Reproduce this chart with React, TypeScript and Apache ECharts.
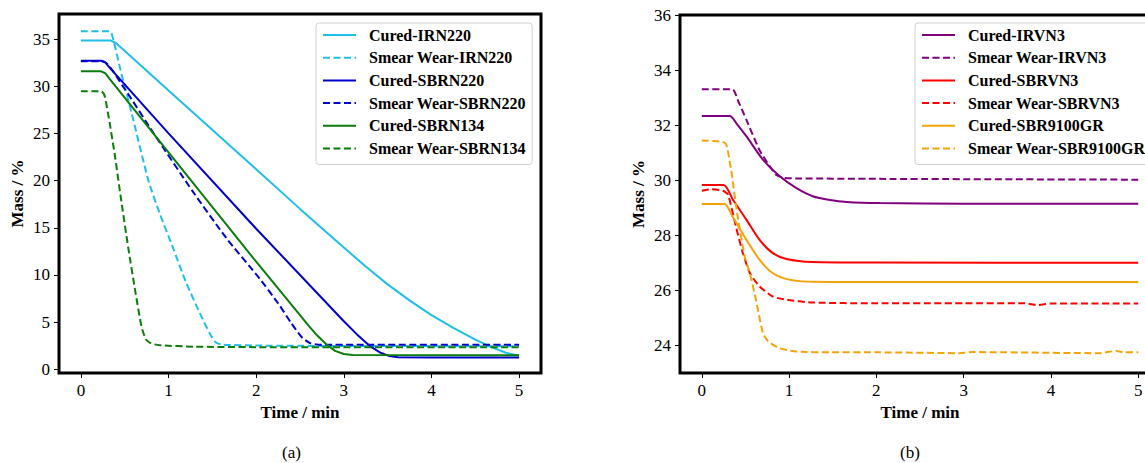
import React, { useEffect, useRef } from "react";
import * as echarts from "echarts";

// ---------- data (time in min, mass in %) ----------
const xTicks = [0, 1, 2, 3, 4, 5];
const yTicksA = [0, 5, 10, 15, 20, 25, 30, 35];
const yTicksB = [24, 26, 28, 30, 32, 34, 36];

const curedIRN220: [number, number][] = [
  [0, 34.83], [0.34, 34.83], [0.4, 34.58], [0.46, 34.08], [1, 29.55], [2, 21.2],
  [2.5, 17.0], [3, 12.9], [3.25, 10.9], [3.5, 9.0], [3.75, 7.3], [4, 5.75],
  [4.25, 4.4], [4.5, 3.15], [4.7, 2.3], [4.85, 1.75], [5, 1.45],
];
const smearIRN220: [number, number][] = [
  [0, 35.82], [0.33, 35.82], [0.36, 35.3], [0.45, 31.8], [0.58, 27.1],
  [0.77, 20.0], [0.9, 16.5], [1.05, 12.9], [1.2, 9.2], [1.36, 5.9],
  [1.47, 3.8], [1.54, 2.85], [1.62, 2.62], [2, 2.52], [3, 2.47], [5, 2.45],
];
const curedSBRN220: [number, number][] = [
  [0, 32.7], [0.23, 32.7], [0.28, 32.5], [0.33, 31.95], [1, 25.0], [2, 14.9],
  [3, 5.1], [3.15, 3.7], [3.3, 2.45], [3.42, 1.75], [3.52, 1.4], [3.62, 1.27],
  [4, 1.25], [5, 1.25],
];
const smearSBRN220: [number, number][] = [
  [0, 32.65], [0.25, 32.65], [0.5, 29.7], [0.83, 25.0], [1.28, 18.8],
  [1.66, 13.9], [2.04, 9.6], [2.25, 7.0], [2.4, 4.9], [2.52, 3.4],
  [2.62, 2.75], [2.75, 2.6], [5, 2.6],
];
const curedSBRN134: [number, number][] = [
  [0, 31.58], [0.23, 31.58], [0.28, 31.35], [0.33, 30.75], [1, 23.0], [2, 11.4],
  [2.6, 4.6], [2.7, 3.55], [2.8, 2.65], [2.9, 1.95], [3.0, 1.62], [3.1, 1.53],
  [5, 1.5],
];
const smearSBRN134: [number, number][] = [
  [0, 29.46], [0.23, 29.46], [0.27, 29.0], [0.33, 26.0], [0.39, 22.5],
  [0.46, 17.9], [0.54, 12.9], [0.62, 8.3], [0.69, 4.6], [0.74, 3.2],
  [0.8, 2.75], [0.9, 2.55], [1.3, 2.4], [2, 2.35], [5, 2.33],
];

const curedIRVN3: [number, number][] = [
  [0, 32.33], [0.32, 32.33], [0.4, 32.05], [0.51, 31.6], [0.7, 30.75],
  [0.89, 30.15], [1.08, 29.72], [1.27, 29.42], [1.47, 29.28], [1.66, 29.21],
  [2.04, 29.17], [3, 29.15], [5, 29.15],
];
const smearIRVN3: [number, number][] = [
  [0, 33.3], [0.35, 33.3], [0.42, 32.85], [0.51, 32.2], [0.66, 31.1],
  [0.78, 30.5], [0.85, 30.2], [0.92, 30.1], [1.0, 30.07], [2, 30.05], [5, 30.02],
];
const curedSBRVN3: [number, number][] = [
  [0, 29.83], [0.25, 29.83], [0.355, 29.3], [0.51, 28.57], [0.66, 27.84],
  [0.81, 27.36], [0.97, 27.14], [1.27, 27.03], [2, 27.01], [5, 27.0],
];
const smearSBRVN3: [number, number][] = [
  [0, 29.62], [0.1, 29.67], [0.24, 29.62], [0.3, 29.48], [0.39, 28.33],
  [0.47, 27.36], [0.55, 26.63], [0.66, 26.15], [0.81, 25.78], [0.97, 25.66],
  [1.27, 25.56], [2, 25.53], [3, 25.53], [3.7, 25.53], [3.85, 25.47],
  [4, 25.52], [5, 25.52],
];
const curedSBR9100GR: [number, number][] = [
  [0, 29.14], [0.26, 29.14], [0.35, 28.69], [0.51, 27.84], [0.66, 27.12],
  [0.81, 26.63], [1.0, 26.39], [1.27, 26.31], [2, 26.3], [5, 26.3],
];
const smearSBR9100GR: [number, number][] = [
  [0, 31.44], [0.23, 31.4], [0.28, 31.3], [0.335, 30.39], [0.41, 28.7],
  [0.49, 27.24], [0.55, 26.63], [0.62, 25.66], [0.7, 24.45], [0.76, 24.15],
  [0.89, 23.9], [1.08, 23.78], [1.47, 23.75], [2, 23.75], [2.95, 23.72],
  [3.1, 23.76], [4.55, 23.72], [4.75, 23.8], [4.85, 23.75], [5, 23.75],
];

const namesA = [
  "Cured-IRN220", "Smear Wear-IRN220", "Cured-SBRN220",
  "Smear Wear-SBRN220", "Cured-SBRN134", "Smear Wear-SBRN134",
];
const namesB = [
  "Cured-IRVN3", "Smear Wear-IRVN3", "Cured-SBRVN3",
  "Smear Wear-SBRVN3", "Cured-SBR9100GR", "Smear Wear-SBR9100GR",
];
const dataA = [curedIRN220, smearIRN220, curedSBRN220, smearSBRN220, curedSBRN134, smearSBRN134];
const dataB = [curedIRVN3, smearIRVN3, curedSBRVN3, smearSBRVN3, curedSBR9100GR, smearSBR9100GR];

// ---------- styles ----------
const colorsA = ["#1EBFE8", "#1EBFE8", "#0000CD", "#0000CD", "#0A7D0A", "#0A7D0A"];
const colorsB = ["#800080", "#800080", "#FF0000", "#FF0000", "#F5A30A", "#F5A30A"];
const smoothA = [false, 0.2, false, 0.2, false, 0.2];
const smoothB = [0.25, 0.2, 0.25, 0.2, 0.25, 0.2];
const FONT = "Liberation Serif";

function makeSeries(
  names: string[],
  data: [number, number][][],
  colors: string[],
  smooth: (number | boolean)[],
  idx: number
) {
  return names.map((name, i) => ({
    name,
    type: "line",
    xAxisIndex: idx,
    yAxisIndex: idx,
    data: data[i],
    symbol: "none",
    showSymbol: false,
    smooth: smooth[i],
    clip: true,
    lineStyle: {
      color: colors[i],
      width: 2,
      type: i % 2 === 1 ? [7, 3.5] : "solid",
    },
    itemStyle: { color: colors[i] },
    emphasis: { disabled: true },
  }));
}

function xAxis(gridIndex: number) {
  return {
    type: "value",
    gridIndex,
    min: -0.25,
    max: 5.25,
    name: "Time / min",
    nameLocation: "middle",
    nameGap: 30,
    nameTextStyle: { fontFamily: FONT, fontWeight: "bold", fontSize: 17, color: "#000" },
    axisLine: { show: false, onZero: false },
    axisTick: { show: true, inside: false, length: 5, customValues: xTicks, lineStyle: { color: "#000", width: 1 } },
    axisLabel: { customValues: xTicks, margin: 9, fontFamily: FONT, fontSize: 17, color: "#000" },
    splitLine: { show: false },
  };
}

function yAxis(gridIndex: number, min: number, max: number, ticks: number[]) {
  return {
    type: "value",
    gridIndex,
    min,
    max,
    name: "Mass / %",
    nameLocation: "middle",
    nameRotate: 90,
    nameGap: 33,
    nameTextStyle: { fontFamily: FONT, fontWeight: "bold", fontSize: 17, color: "#000" },
    axisLine: { show: false, onZero: false },
    axisTick: { show: true, inside: false, length: 5, customValues: ticks, lineStyle: { color: "#000", width: 1 } },
    axisLabel: { customValues: ticks, margin: 9, fontFamily: FONT, fontSize: 17, color: "#000" },
    splitLine: { show: false },
  };
}

function legend(names: string[], left: number) {
  return {
    data: names,
    orient: "vertical",
    left,
    top: 23,
    itemWidth: 33,
    itemHeight: 14,
    itemGap: 6.7,
    padding: [4, 6, 8, 6],
    backgroundColor: "#fff",
    borderColor: "#d0d0d0",
    borderWidth: 1,
    borderRadius: 3,
    selectedMode: false,
    itemStyle: { color: "rgba(0,0,0,0)", borderColor: "rgba(0,0,0,0)", borderWidth: 0, opacity: 0 },
    textStyle: {
      fontFamily: FONT,
      fontWeight: "bold",
      fontSize: 16,
      lineHeight: 16,
      color: "#000",
      padding: [0, 0, 0, 8],
    },
  };
}

export default function App() {
  const ref = useRef<HTMLDivElement>(null);
  useEffect(() => {
    if (!ref.current) return;
    const chart = echarts.init(ref.current, undefined, { renderer: "svg" });
    chart.setOption({
      animation: false,
      backgroundColor: "#fff",
      textStyle: { fontFamily: FONT },
      grid: [
        { left: 59, top: 14, width: 482, height: 359, show: true, borderColor: "#000", borderWidth: 3, backgroundColor: "transparent" },
        { left: 680, top: 15, width: 480, height: 358, show: true, borderColor: "#000", borderWidth: 3, backgroundColor: "transparent" },
      ],
      xAxis: [xAxis(0), xAxis(1)],
      yAxis: [yAxis(0, -0.39, 37.65, yTicksA), yAxis(1, 23, 36, yTicksB)],
      legend: [legend(namesA, 316), legend(namesB, 915)],
      series: [
        ...makeSeries(namesA, dataA, colorsA, smoothA, 0),
        ...makeSeries(namesB, dataB, colorsB, smoothB, 1),
      ],
      graphic: [
        { type: "text", left: 282, top: 444, style: { text: "(a)", fontFamily: FONT, fontSize: 17, fill: "#000" } },
        { type: "text", left: 900, top: 444, style: { text: "(b)", fontFamily: FONT, fontSize: 17, fill: "#000" } },
      ],
    });
    return () => chart.dispose();
  }, []);
  return (
    <div
      style={{ position: "absolute", left: 0, top: 0, width: 1145, height: 463, overflow: "hidden", background: "#fff" }}
    >
      <div ref={ref} style={{ width: 1175, height: 463 }} />
    </div>
  );
}
